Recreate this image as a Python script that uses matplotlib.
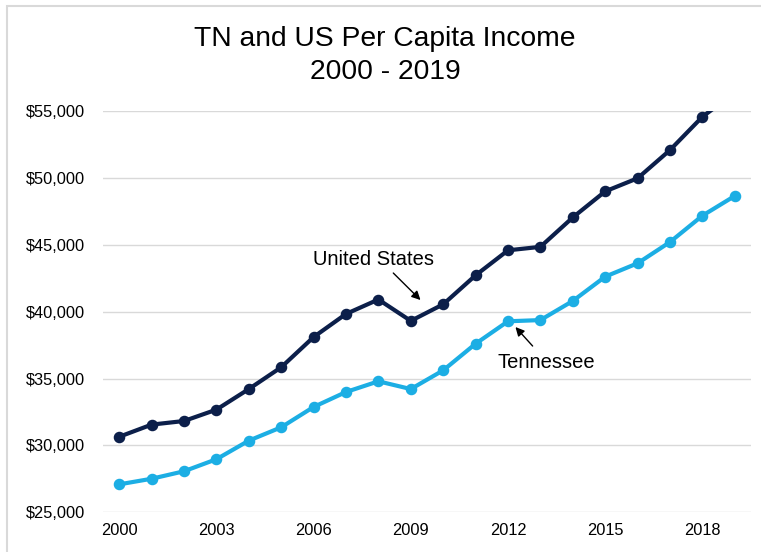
import matplotlib
matplotlib.use("Agg")
import matplotlib.pyplot as plt
from matplotlib.patches import Rectangle
from matplotlib.ticker import FuncFormatter, MultipleLocator

plt.rcParams['font.family'] = ['Liberation Sans', 'DejaVu Sans']

years = list(range(2000, 2020))
us_income = [30650, 31560, 31830, 32680, 34220, 35850, 38110, 39840, 40920, 39320,
             40560, 42730, 44600, 44860, 47060, 49010, 49990, 52100, 54590, 56400]
tn_income = [27090, 27510, 28070, 28970, 30360, 31360, 32880, 34000, 34800, 34220,
             35620, 37610, 39290, 39380, 40810, 42630, 43630, 45220, 47190, 48670]
x_ticks = [2000, 2003, 2006, 2009, 2012, 2015, 2018]

us_color = "#0c1f4a"
tn_color = "#1caee4"

fig = plt.figure(figsize=(7.61, 5.52), dpi=100)
fig.patches.append(Rectangle((7 / 761, -0.1), 1.2, 1.1 - 6 / 552,
                             transform=fig.transFigure, fill=False,
                             edgecolor="#d9d9d9", linewidth=1.5))

ax = fig.add_axes([103 / 761, 39.7 / 552, 648 / 761, 401 / 552])
ax.plot(years, us_income, color=us_color, linewidth=3, marker="o", markersize=7.3)
ax.plot(years, tn_income, color=tn_color, linewidth=3, marker="o", markersize=7.3)

ax.set_xlim(1999.5, 2019.5)
ax.set_ylim(25000, 55000)
ax.yaxis.set_major_locator(MultipleLocator(5000))
ax.yaxis.set_major_formatter(FuncFormatter(lambda v, p: f"${v:,.0f}"))
ax.set_xticks(x_ticks)
ax.grid(axis="y", color="#d9d9d9", linewidth=1)
ax.set_axisbelow(True)
for s in ax.spines.values():
    s.set_visible(False)
ax.tick_params(length=0, labelsize=11.8, colors="#000000", pad=8)
ax.tick_params(axis="y", pad=13)

fig.text(385 / 761, 1 - 39 / 552, "TN and US Per Capita Income", ha="center",
         va="center", fontsize=20.3)
fig.text(385 / 761, 1 - 72 / 552, "2000 - 2019", ha="center", va="center",
         fontsize=20.3)

# series labels with pointer arrows
arrow_style = dict(arrowstyle="-|>", color="black", lw=1,
                   shrinkA=0, shrinkB=0, mutation_scale=13)
ax.text(2007.86, 43900, "United States", ha="center", va="center", fontsize=14.5)
ax.annotate("", xy=(2009.3, 40880), xytext=(2008.46, 42900),
            arrowprops=arrow_style)
ax.text(2013.19, 36170, "Tennessee", ha="center", va="center", fontsize=14.5)
ax.annotate("", xy=(2012.23, 38860), xytext=(2012.76, 37440),
            arrowprops=arrow_style)

fig.savefig("out.png", dpi=100)
